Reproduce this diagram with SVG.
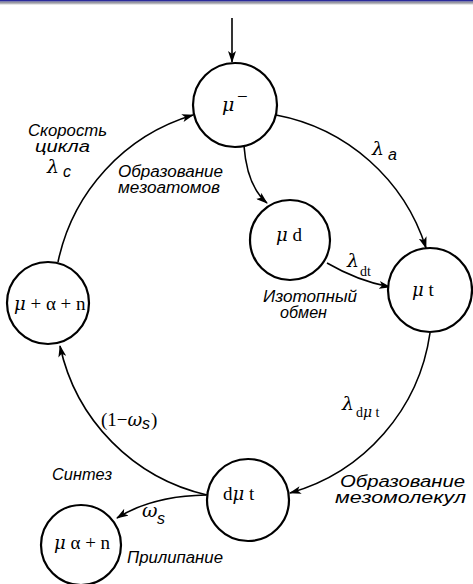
<svg xmlns="http://www.w3.org/2000/svg" width="473" height="584" viewBox="0 0 473 584">
<style>
.node{fill:#fff;stroke:#000;stroke-width:2.2}
.edge{fill:none;stroke:#000;stroke-width:1.6}
.lab{font-family:"Liberation Sans","DejaVu Sans",sans-serif;font-style:italic;font-size:16px;fill:#000}
.sym{font-family:"Liberation Serif","DejaVu Serif",serif;font-size:19px;fill:#000}
.sub{font-family:"Liberation Serif","DejaVu Serif",serif;font-size:14px;fill:#000}
.gk{font-family:"DejaVu Serif","Liberation Serif",serif;font-style:italic}
</style>
<defs>
<linearGradient id="hdr" x1="0" y1="0" x2="0" y2="1">
<stop offset="0" stop-color="#7a7a8a"/>
<stop offset="1" stop-color="#d8d8d8"/>
</linearGradient>
<marker id="arr" viewBox="0 0 12 8" refX="11" refY="4" markerWidth="12" markerHeight="8" markerUnits="userSpaceOnUse" orient="auto">
<path d="M0,0 L12,4 L0,8 L3,4 Z" fill="#000"/>
</marker>
</defs>
<rect x="0" y="0" width="473" height="584" fill="#fff"/>
<rect x="0" y="0" width="473" height="1.6" fill="#2b2b9c"/>
<rect x="0" y="1.6" width="473" height="3" fill="url(#hdr)"/>

<g id="connectors">
<line class="edge" x1="232" y1="18" x2="232" y2="62" marker-end="url(#arr)"/>
<path class="edge" d="M276,115 A195,195 0 0 1 426,248" marker-end="url(#arr)"/>
<path class="edge" d="M430,333 A195,195 0 0 1 290,493" marker-end="url(#arr)"/>
<path class="edge" d="M207,495 A195,195 0 0 1 60,346" marker-end="url(#arr)"/>
<path class="edge" d="M58,262 A195,195 0 0 1 193,115" marker-end="url(#arr)"/>
<path class="edge" d="M244,146 Q247,186 267,203" marker-end="url(#arr)"/>
<path class="edge" d="M327,263 Q358,281 390,287" marker-end="url(#arr)"/>
<path class="edge" d="M206,495 Q152,496 117,518" marker-end="url(#arr)"/>
</g>

<g id="node-mu-minus">
<circle class="node" cx="235" cy="105" r="42"/>
<text class="sym gk" x="222" y="111" font-size="19">μ</text>
<text class="sym" x="237" y="103" font-size="16">−</text>
</g>

<g id="node-mu-d">
<circle class="node" cx="290" cy="240" r="40"/>
<text class="sym" x="276" y="241"><tspan class="gk" font-size="18">μ</tspan> d</text>
</g>

<g id="node-mu-t">
<circle class="node" cx="430" cy="290" r="42"/>
<text class="sym" x="412" y="296"><tspan class="gk" font-size="18">μ</tspan> t</text>
</g>

<g id="node-mu-alpha-n">
<circle class="node" cx="48" cy="303" r="41"/>
<text class="sym" x="14" y="310" font-size="17"><tspan class="gk" font-size="18">μ</tspan> + α + n</text>
</g>

<g id="node-d-mu-t">
<circle class="node" cx="248" cy="500" r="41"/>
<text class="sym" x="223" y="500">d<tspan class="gk" font-size="18">μ</tspan> t</text>
</g>

<g id="node-mu-alpha-plus-n">
<circle class="node" cx="81" cy="545" r="40"/>
<text class="sym" x="54" y="549" font-size="17"><tspan class="gk" font-size="18">μ</tspan> α + n</text>
</g>

<g id="labels">
<text class="lab" x="28" y="136" textLength="79" lengthAdjust="spacingAndGlyphs" font-size="17">Скорость</text>
<text class="lab" x="35" y="152" textLength="55" lengthAdjust="spacingAndGlyphs" font-size="17">цикла</text>
<text class="sym gk" x="47" y="173" font-size="19">λ</text>
<text class="lab" x="63" y="177" font-size="15">c</text>

<text class="lab" x="118" y="177" textLength="105" lengthAdjust="spacingAndGlyphs">Образование</text>
<text class="lab" x="118" y="193" textLength="102" lengthAdjust="spacingAndGlyphs">мезоатомов</text>

<text class="sym gk" x="372" y="155" font-size="19">λ</text>
<text class="lab" x="388" y="160" font-size="14">a</text>

<text class="sym gk" x="347" y="267" font-size="18">λ</text>
<text class="sub" x="360" y="276">dt</text>

<text class="lab" x="263" y="302" textLength="94" lengthAdjust="spacingAndGlyphs">Изотопный</text>
<text class="lab" x="280" y="318" textLength="47" lengthAdjust="spacingAndGlyphs">обмен</text>

<text class="sym" x="101" y="426" font-size="20">(1−<tspan class="gk" font-size="18">ω</tspan></text>
<text class="lab" x="142" y="429" font-size="15">s</text>
<text class="sym" x="151" y="426" font-size="20">)</text>

<text class="sym gk" x="342" y="410" font-size="19">λ</text>
<text class="sub" x="356" y="417">d<tspan class="gk" font-size="14">μ</tspan> t</text>

<text class="lab" x="52" y="480" textLength="60" lengthAdjust="spacingAndGlyphs">Синтез</text>

<text class="lab" x="340" y="487" textLength="125" lengthAdjust="spacingAndGlyphs" font-size="17">Образование</text>
<text class="lab" x="335" y="503" textLength="131" lengthAdjust="spacingAndGlyphs" font-size="17">мезомолекул</text>

<text class="sym gk" x="142" y="517" font-size="18">ω</text>
<text class="lab" x="157" y="524" font-size="14">s</text>

<text class="lab" x="127" y="563" textLength="96" lengthAdjust="spacingAndGlyphs">Прилипание</text>
</g>
</svg>
